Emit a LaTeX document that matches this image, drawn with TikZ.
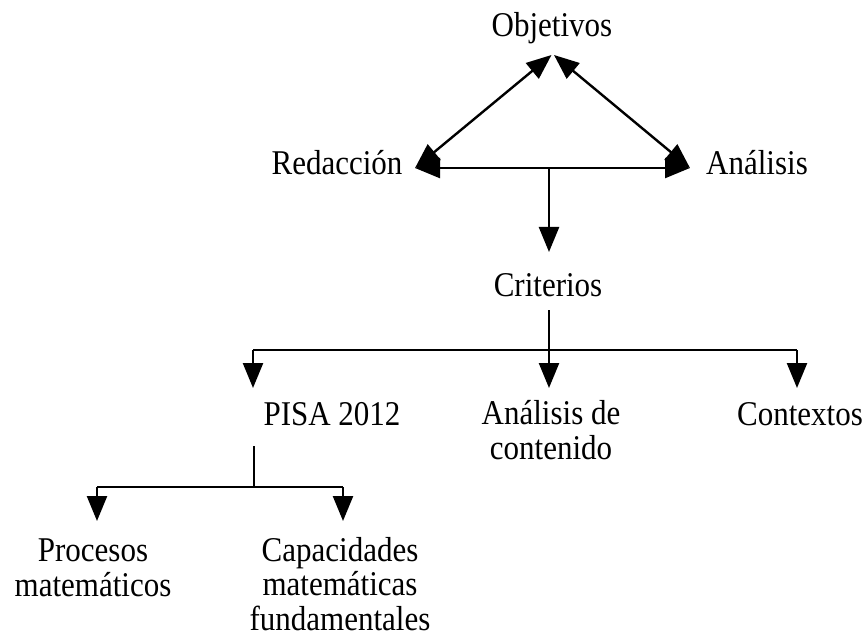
\documentclass[tikz,border=0pt]{standalone}
\usepackage{fontspec}
\setmainfont{Liberation Serif}
\usetikzlibrary{arrows.meta}
\tikzset{
  lbl/.style={anchor=base, inner sep=0pt, align=center, yscale=1.12, transform shape,
    font=\fontsize{31}{30.4}\selectfont},
  conn/.style={line width=2.4pt, draw=black},
  arr/.style={conn, -{Triangle[width=20pt,length=25pt]}},
  darr/.style={conn, {Triangle[width=20pt,length=25pt]}-{Triangle[width=20pt,length=25pt]}}
}
\begin{document}
\begin{tikzpicture}[x=1pt,y=-1pt]
\useasboundingbox (0,0) rectangle (864,644);
% text nodes (base = baseline of last line)
\node[lbl] (obj) at (552,37) {Objetivos};
\node[lbl] (red) at (337,175) {Redacción};
\node[lbl] (ana) at (757,175) {Análisis};
\node[lbl] (cri) at (548,296) {Criterios};
\node[lbl] (pisa) at (332,425) {PISA 2012};
\node[lbl] (acont) at (551,459) {Análisis de\\contenido};
\node[lbl] (ctx) at (800,425) {Contextos};
\node[lbl] (proc) at (93,596) {Procesos\\matemáticos};
\node[lbl] (cap) at (340,630) {Capacidades\\matemáticas\\fundamentales};
% connector points
\coordinate (objL) at (551.5,55);
\coordinate (objR) at (554,55);
\coordinate (redP) at (415,168);
\coordinate (anaP) at (690,168);
\coordinate (mid) at (549,168);
\coordinate (criT) at (549,252);
\coordinate (criB) at (549,310);
\coordinate (cj) at (549,350);
\coordinate (cjL) at (253,350);
\coordinate (cjR) at (797,350);
\coordinate (pisaT) at (253,388);
\coordinate (acT) at (549,388);
\coordinate (ctxT) at (797,388);
\coordinate (pisaB) at (254,446);
\coordinate (pj) at (254,487);
\coordinate (pjL) at (97,487);
\coordinate (pjR) at (343,487);
\coordinate (procT) at (97,521);
\coordinate (capT) at (343,521);
% connectors
\draw[darr] (objL) -- (redP);
\draw[darr] (objR) -- (anaP);
\draw[darr] (redP) -- (anaP);
\draw[arr] (mid) -- (criT);
\draw[conn] (criB) -- (cj);
\draw[arr] (cjL) -- (pisaT);
\draw[conn] (cjL) -- (cjR);
\draw[arr] (cj) -- (acT);
\draw[arr] (cjR) -- (ctxT);
\draw[conn] (pisaB) -- (pj);
\draw[conn] (pjL) -- (pjR);
\draw[arr] (pjL) -- (procT);
\draw[arr] (pjR) -- (capT);
\end{tikzpicture}
\end{document}
